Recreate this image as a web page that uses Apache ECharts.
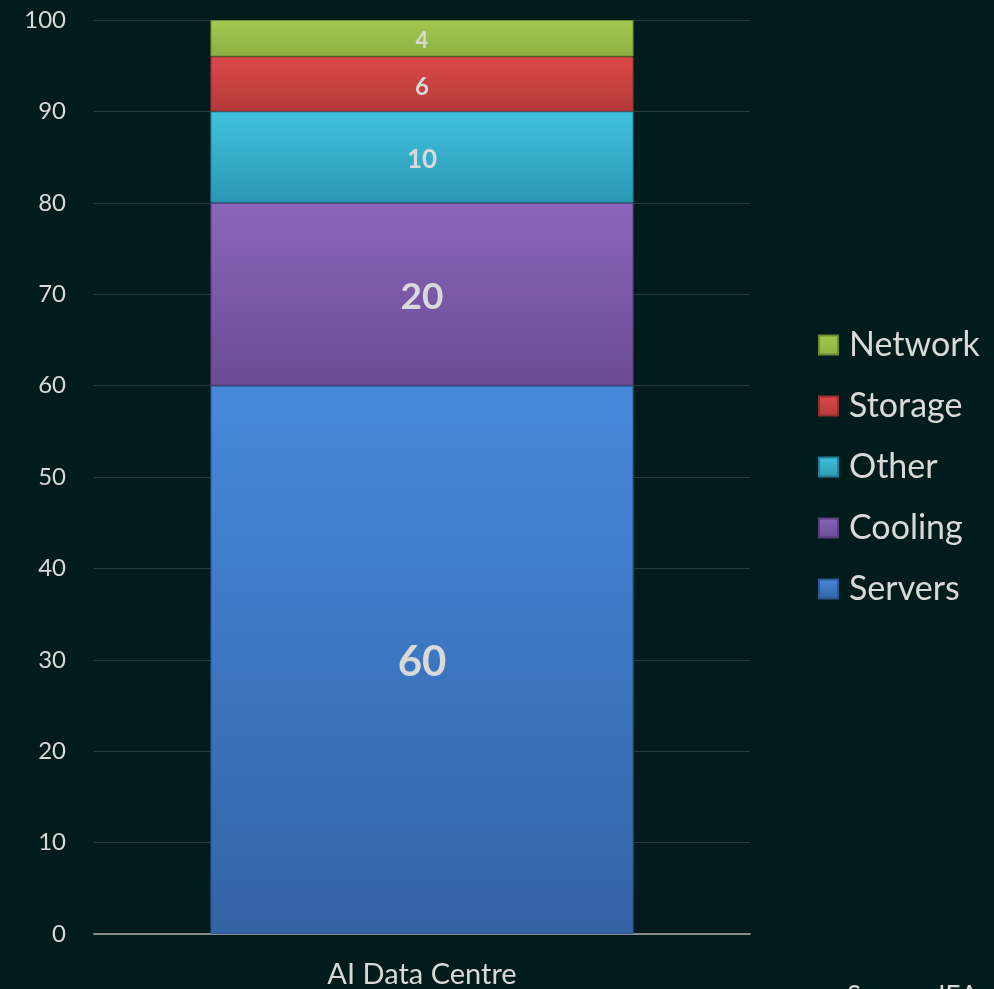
<!DOCTYPE html>
<html>
<head>
<meta charset="utf-8">
<script src="https://cdn.jsdelivr.net/npm/echarts@6/dist/echarts.min.js"></script>
<style>
html,body{margin:0;padding:0;background:#021b1c;}
#c{width:994px;height:989px;}
</style>
</head>
<body>
<div id="c"></div>
<script>
var categories = ['AI Data Centre'];
var seriesNames = ['Servers', 'Cooling', 'Other', 'Storage', 'Network'];
var servers = [60];
var cooling = [20];
var other = [10];
var storage = [6];
var network = [4];
var yTicks = [0, 10, 20, 30, 40, 50, 60, 70, 80, 90, 100];
var legendOrder = ['Network', 'Storage', 'Other', 'Cooling', 'Servers'];

var FONT = 'Lato';
function grad(top, bottom) {
  return new echarts.graphic.LinearGradient(0, 0, 0, 1, [
    {offset: 0, color: top}, {offset: 1, color: bottom}
  ]);
}
var styles = {
  Servers: {c: grad('#4689db', '#3363a5'), b: '#2c5790', fs: 42},
  Cooling: {c: grad('#8a66bb', '#6a4b93'), b: '#573d7a', fs: 37},
  Other: {c: grad('#40c2df', '#2a98b3'), b: '#237f96', fs: 26},
  Storage: {c: grad('#dc4848', '#b43a3a'), b: '#953030', fs: 24},
  Network: {c: grad('#a3c951', '#8cb040'), b: '#6f8c33', fs: 22}
};
var dataMap = {Servers: servers, Cooling: cooling, Other: other, Storage: storage, Network: network};

var series = seriesNames.map(function (n) {
  var s = styles[n];
  return {
    name: n,
    type: 'bar',
    stack: 'total',
    barWidth: '64.5%',
    data: dataMap[n],
    itemStyle: {color: s.c, borderColor: s.b, borderWidth: 1},
    label: {
      show: true,
      position: 'inside',
      color: '#d9d9d9',
      fontFamily: FONT,
      fontWeight: 'bold',
      fontSize: s.fs,
      offset: [0, 3]
    }
  };
});

var chart = echarts.init(document.getElementById('c'));
chart.setOption({
  backgroundColor: '#021b1c',
  animation: false,
  grid: {left: 94, right: 244, top: 20, bottom: 54, containLabel: false},
  legend: {
    data: legendOrder,
    orient: 'vertical',
    left: 818,
    top: 328,
    padding: 0,
    itemWidth: 19,
    itemHeight: 19,
    itemGap: 27,
    icon: 'rect',
    textStyle: {color: '#d9d9d9', fontFamily: FONT, fontSize: 34, lineHeight: 34, padding: [0, 0, 0, 6]}
  },
  xAxis: {
    type: 'category',
    data: categories,
    axisLine: {lineStyle: {color: '#8c8c8c', width: 2}},
    axisTick: {show: false},
    axisLabel: {color: '#d9d9d9', fontFamily: FONT, fontSize: 29, margin: 26}
  },
  yAxis: {
    type: 'value',
    min: yTicks[0],
    max: yTicks[yTicks.length - 1],
    interval: 10,
    axisLine: {show: false},
    axisTick: {show: false},
    splitLine: {lineStyle: {color: '#2b3b3c', width: 1}},
    axisLabel: {color: '#d9d9d9', fontFamily: FONT, fontSize: 24, margin: 28}
  },
  series: series,
  graphic: [{
    type: 'text',
    left: 847,
    top: 984,
    style: {text: 'Source: IEA', fill: '#d9d9d9', font: '26px ' + FONT}
  }]
});
</script>
</body>
</html>
